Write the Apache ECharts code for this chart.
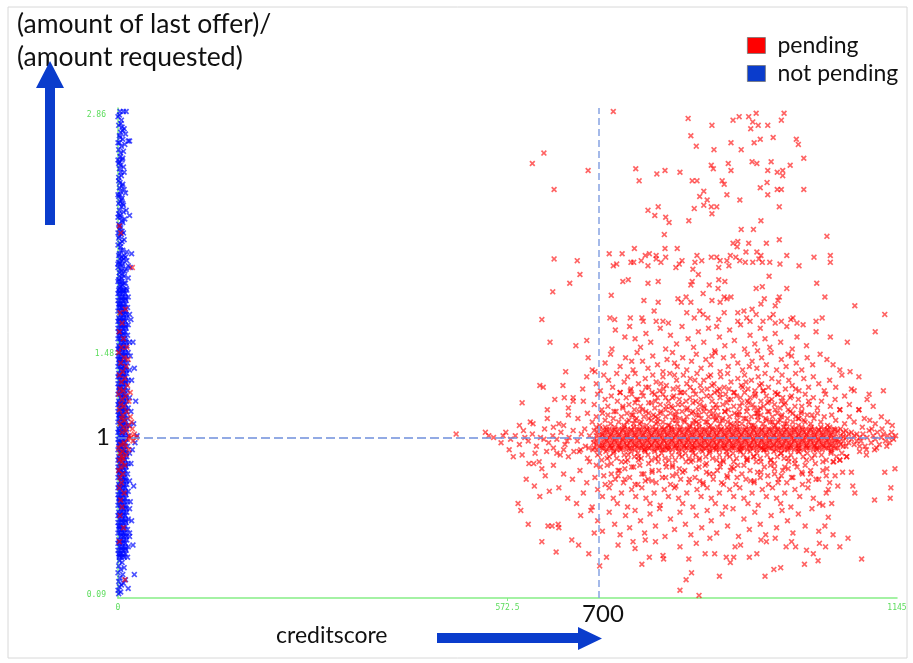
<!DOCTYPE html>
<html><head><meta charset="utf-8">
<script src="https://cdn.jsdelivr.net/npm/echarts@6/dist/echarts.min.js"></script>
<style>html,body{margin:0;padding:0;background:#fff}#c{width:913px;height:663px}</style>
</head><body><div id="c"></div><script>
// creditscore, (amount of last offer)/(amount requested) — flat x,y pairs
const xTicks = [0, 572.5, 1145];
const yTicks = [0.09, 1.48, 2.86];
const splitScore = 707;   // vertical reference line (labelled 700)
const splitRatio = 1;     // horizontal reference line

const pendingHigh = [728,2.88,838,2.84,873,2.80,904,2.83,913,2.85,927,2.85,938,2.87,933,2.82,941,2.80,930,2.78,955,2.80,979,2.87,975,2.83,842,2.74,963,2.73,944,2.72,935,2.70,997,2.72,1000,2.69,901,2.70,850,2.68,876,2.66,916,2.66,1008,2.61,932,2.59,939,2.58,960,2.59,872,2.57,897,2.58,875,2.55,901,2.54,955,2.54,969,2.53,977,2.54,977,2.51,988,2.57,761,2.55,792,2.52,804,2.54,826,2.53,766,2.48,844,2.48,851,2.48,888,2.48,891,2.46,954,2.47,944,2.44,969,2.43,975,2.43,1008,2.43,861,2.42,855,2.39,895,2.40,955,2.40,866,2.37,914,2.37,861,2.34,872,2.33,880,2.33,847,2.32,794,2.33,779,2.31,873,2.29,972,2.33,789,2.28,805,2.27,810,2.24,839,2.25,945,2.25,916,2.20,934,2.20,803,2.17,1042,2.16,972,2.14,904,2.12,911,2.13,910,2.10,927,2.12,953,2.12,804,2.09,822,2.09,759,2.09,626,2.64,609,2.58,691,2.54,641,2.43,641,2.03,675,2.02,679,1.94,664,1.89,639,1.84,623,1.68,
722,2.06,741,2.06,728,1.99,733,2.00,754,2.01,758,2.01,769,2.02,775,2.05,781,2.06,779,1.99,791,2.05,791,2.03,798,2.01,805,2.04,820,1.98,825,2.00,829,2.02,845,1.97,848,2.01,851,2.05,858,2.02,872,2.04,880,2.04,885,2.02,883,1.98,895,2.02,900,2.05,898,1.99,908,2.04,914,2.02,923,2.07,922,2.01,933,2.01,939,2.07,945,2.05,942,2.03,947,2.01,958,2.01,973,2.00,983,2.05,1001,1.99,1023,2.04,1047,2.05,1047,2.01,
853,1.94,844,1.90,842,1.88,869,1.88,883,1.91,892,1.90,882,1.86,742,1.90,750,1.91,779,1.89,794,1.90,957,1.93,947,1.87,938,1.86,983,1.86,1027,1.89,725,1.82,773,1.79,794,1.78,823,1.80,828,1.78,835,1.81,842,1.78,860,1.83,873,1.79,885,1.78,891,1.81,895,1.80,901,1.81,950,1.80,972,1.81,970,1.79,945,1.77,966,1.76,1039,1.81,1083,1.76,1127,1.71,788,1.73,836,1.72,847,1.69,855,1.73,860,1.71,891,1.72,911,1.72,920,1.73,932,1.74,924,1.69,938,1.71,963,1.71,958,1.69,992,1.69,989,1.68,1035,1.69,1026,1.67,723,1.69,730,1.68,753,1.69,770,1.69,772,1.67,791,1.67,801,1.67,809,1.66,867,1.69,883,1.68,911,1.67,929,1.67,948,1.67,966,1.66,975,1.67,998,1.66,1007,1.65];

const pendingMid = [635,1.55,673,1.53,689,1.56,731,1.62,745,1.58,752,1.64,768,1.52,776,1.60,783,1.55,797,1.63,805,1.51,812,1.59,821,1.54,829,1.64,838,1.57,846,1.52,853,1.61,861,1.55,868,1.63,877,1.50,884,1.58,892,1.53,899,1.62,906,1.56,915,1.65,921,1.51,929,1.59,936,1.54,944,1.63,951,1.57,958,1.52,966,1.60,974,1.55,983,1.64,991,1.51,998,1.58,1012,1.53,1026,1.61,1047,1.58,1072,1.55,1113,1.61,726,1.51,760,1.57,880,1.64,940,1.50,
691,1.46,701,1.38,697,1.39,716,1.43,724,1.48,738,1.41,746,1.46,757,1.39,763,1.49,771,1.44,779,1.40,786,1.47,793,1.42,801,1.38,807,1.45,815,1.49,822,1.41,830,1.46,836,1.39,843,1.44,850,1.48,857,1.40,864,1.45,871,1.42,878,1.49,885,1.38,890,1.46,897,1.41,904,1.47,911,1.43,918,1.39,925,1.48,932,1.44,939,1.40,946,1.46,953,1.42,960,1.49,968,1.39,975,1.45,982,1.41,990,1.47,997,1.43,1005,1.39,1013,1.46,1021,1.42,1032,1.48,1042,1.45,1051,1.42,1061,1.39,1076,1.38,658,1.38,755,1.44,818,1.43,873,1.47,928,1.41,985,1.48,
620,1.30,625,1.29,654,1.30,683,1.28,689,1.35,703,1.31,709,1.27,714,1.36,721,1.33,727,1.29,733,1.37,738,1.26,744,1.32,749,1.35,754,1.28,760,1.37,765,1.31,770,1.26,775,1.34,780,1.29,786,1.36,791,1.32,796,1.27,801,1.35,806,1.30,811,1.37,816,1.28,821,1.33,826,1.26,831,1.36,836,1.31,841,1.34,846,1.27,851,1.37,856,1.30,861,1.33,866,1.28,871,1.36,876,1.31,881,1.27,886,1.35,891,1.29,896,1.37,901,1.32,906,1.26,911,1.34,916,1.30,921,1.36,926,1.28,931,1.33,936,1.27,941,1.35,946,1.31,951,1.37,956,1.29,961,1.34,966,1.26,971,1.32,976,1.36,981,1.28,986,1.33,991,1.30,996,1.37,1001,1.27,1008,1.34,1015,1.29,1022,1.35,1030,1.31,1038,1.27,1046,1.33,1055,1.29,1064,1.36,1078,1.28,1082,1.27,1089,1.35,1125,1.27,1104,1.25,798,1.31,823,1.29,848,1.33,873,1.30,898,1.28,923,1.32,948,1.27,868,1.35,818,1.36,943,1.30,
594,1.20,642,1.22,656,1.23,669,1.23,669,1.21,684,1.21,662,1.17,631,1.16,700,1.19,705,1.25,711,1.16,716,1.22,720,1.18,725,1.24,729,1.15,734,1.21,738,1.26,742,1.17,747,1.23,751,1.19,755,1.25,759,1.16,764,1.22,768,1.18,772,1.24,776,1.15,780,1.20,785,1.26,789,1.17,793,1.23,797,1.19,801,1.25,805,1.16,809,1.21,813,1.18,817,1.24,821,1.15,825,1.22,829,1.19,833,1.26,837,1.17,841,1.23,845,1.20,849,1.25,853,1.16,857,1.22,861,1.18,865,1.24,869,1.15,873,1.21,877,1.26,881,1.17,885,1.23,889,1.19,893,1.25,897,1.16,901,1.22,905,1.18,909,1.24,913,1.15,917,1.20,921,1.26,925,1.17,929,1.23,933,1.19,937,1.25,941,1.16,945,1.21,949,1.18,953,1.24,957,1.15,961,1.22,965,1.19,969,1.25,973,1.17,977,1.23,981,1.20,985,1.16,990,1.24,995,1.18,1000,1.22,1005,1.15,1010,1.25,1016,1.19,1022,1.23,1028,1.17,1034,1.21,1040,1.25,1047,1.18,1054,1.22,1061,1.16,1068,1.24,1075,1.19,1089,1.16,1101,1.22,1110,1.18,760,1.20,790,1.21,815,1.17,835,1.21,855,1.19,875,1.17,895,1.20,915,1.23,935,1.17,955,1.20,975,1.21,845,1.15,885,1.25,925,1.21,805,1.23,
606,1.09,631,1.11,662,1.13,676,1.11,648,1.08,690,1.14,697,1.09,703,1.12,708,1.07,712,1.14,716,1.10,720,1.13,724,1.08,728,1.11,732,1.15,736,1.09,740,1.12,744,1.07,748,1.14,751,1.10,755,1.13,758,1.08,762,1.11,766,1.15,769,1.09,773,1.12,777,1.07,780,1.14,784,1.10,787,1.13,791,1.08,794,1.11,798,1.15,801,1.09,805,1.12,808,1.07,812,1.14,815,1.10,819,1.13,822,1.08,826,1.11,829,1.15,833,1.09,836,1.12,840,1.07,843,1.14,847,1.10,850,1.13,854,1.08,857,1.11,861,1.15,864,1.09,868,1.12,871,1.07,875,1.14,878,1.10,882,1.13,885,1.08,889,1.11,892,1.15,896,1.09,899,1.12,903,1.07,906,1.14,910,1.10,913,1.13,917,1.08,920,1.11,924,1.15,927,1.09,931,1.12,934,1.07,938,1.14,941,1.10,945,1.13,948,1.08,952,1.11,955,1.15,959,1.09,962,1.12,966,1.07,969,1.14,973,1.10,976,1.13,980,1.08,984,1.11,988,1.15,992,1.09,996,1.12,1000,1.07,1004,1.14,1008,1.10,1013,1.13,1018,1.08,1023,1.11,1028,1.14,1033,1.09,1038,1.12,1043,1.07,1049,1.13,1055,1.10,1061,1.16,1068,1.08,1075,1.12,1082,1.09,1089,1.16,1097,1.11,1105,1.10,1113,1.08,1122,1.12,1131,1.09,1138,1.07,760,1.10,790,1.12,820,1.10,850,1.09,880,1.11,910,1.08,940,1.12,970,1.09,1000,1.11];

const pendingDense = [742,1.18,748,1.09,753,1.27,757,1.13,762,1.22,767,1.08,771,1.16,776,1.29,780,1.11,784,1.20,789,1.25,793,1.09,797,1.14,802,1.28,806,1.18,810,1.07,815,1.23,819,1.12,823,1.19,828,1.26,832,1.10,836,1.16,841,1.29,845,1.08,849,1.21,854,1.13,858,1.27,862,1.17,866,1.09,871,1.24,875,1.12,879,1.19,884,1.28,888,1.10,892,1.15,897,1.22,901,1.08,905,1.26,910,1.13,914,1.18,918,1.29,923,1.11,927,1.20,931,1.07,936,1.24,940,1.14,944,1.17,949,1.27,953,1.10,957,1.21,962,1.09,966,1.16,970,1.25,975,1.12,979,1.19,983,1.08,988,1.23,992,1.14,996,1.28,1001,1.11,1005,1.18,1010,1.09,1015,1.21,1020,1.13,
703,0.84,708,0.91,714,0.78,719,0.88,724,0.74,729,0.92,735,0.81,740,0.86,745,0.76,750,0.90,755,0.83,760,0.73,765,0.89,770,0.79,775,0.92,780,0.85,785,0.75,790,0.88,795,0.81,800,0.93,805,0.77,810,0.87,815,0.83,820,0.72,825,0.90,830,0.80,835,0.86,840,0.76,845,0.91,850,0.82,855,0.88,860,0.74,865,0.85,870,0.92,875,0.79,880,0.87,885,0.83,890,0.73,895,0.90,900,0.81,905,0.86,910,0.77,915,0.92,920,0.84,925,0.88,930,0.75,935,0.89,940,0.80,945,0.86,950,0.93,955,0.78,960,0.87,965,0.82,970,0.74,975,0.91,980,0.83,985,0.88,990,0.77,995,0.85,1000,0.92,1006,0.79,1012,0.87,1018,0.81,1024,0.90,1030,0.76,1036,0.86,1042,0.82,1048,0.91,1054,0.78];

const pendingBand = [
700,0.94,700,0.99,700,1.04,703,0.96,703,1.01,703,1.06,705,0.93,705,0.98,705,1.03,708,0.95,708,1.00,708,1.05,711,0.97,711,1.02,711,0.94,
714,0.94,714,0.99,714,1.04,716,0.96,716,1.01,716,1.06,719,0.93,719,0.98,719,1.03,722,0.95,722,1.00,722,1.05,725,0.97,725,1.02,725,0.94,
727,0.94,727,0.99,727,1.04,730,0.96,730,1.01,730,1.06,733,0.93,733,0.98,733,1.03,736,0.95,736,1.00,736,1.05,738,0.97,738,1.02,738,0.94,
741,0.94,741,0.99,741,1.04,744,0.96,744,1.01,744,1.06,747,0.93,747,0.98,747,1.03,749,0.95,749,1.00,749,1.05,752,0.97,752,1.02,752,0.94,
755,0.94,755,0.99,755,1.04,758,0.96,758,1.01,758,1.06,760,0.93,760,0.98,760,1.03,763,0.95,763,1.00,763,1.05,766,0.97,766,1.02,766,0.94,
769,0.94,769,0.99,769,1.04,771,0.96,771,1.01,771,1.06,774,0.93,774,0.98,774,1.03,777,0.95,777,1.00,777,1.05,780,0.97,780,1.02,780,0.94,
782,0.94,782,0.99,782,1.04,785,0.96,785,1.01,785,1.06,788,0.93,788,0.98,788,1.03,791,0.95,791,1.00,791,1.05,793,0.97,793,1.02,793,0.94,
796,0.94,796,0.99,796,1.04,799,0.96,799,1.01,799,1.06,802,0.93,802,0.98,802,1.03,804,0.95,804,1.00,804,1.05,807,0.97,807,1.02,807,0.94,
810,0.94,810,0.99,810,1.04,813,0.96,813,1.01,813,1.06,815,0.93,815,0.98,815,1.03,818,0.95,818,1.00,818,1.05,821,0.97,821,1.02,821,0.94,
824,0.94,824,0.99,824,1.04,826,0.96,826,1.01,826,1.06,829,0.93,829,0.98,829,1.03,832,0.95,832,1.00,832,1.05,835,0.97,835,1.02,835,0.94,
837,0.94,837,0.99,837,1.04,840,0.96,840,1.01,840,1.06,843,0.93,843,0.98,843,1.03,846,0.95,846,1.00,846,1.05,848,0.97,848,1.02,848,0.94,
851,0.94,851,0.99,851,1.04,854,0.96,854,1.01,854,1.06,857,0.93,857,0.98,857,1.03,859,0.95,859,1.00,859,1.05,862,0.97,862,1.02,862,0.94,
865,0.94,865,0.99,865,1.04,868,0.96,868,1.01,868,1.06,870,0.93,870,0.98,870,1.03,873,0.95,873,1.00,873,1.05,876,0.97,876,1.02,876,0.94,
879,0.94,879,0.99,879,1.04,881,0.96,881,1.01,881,1.06,884,0.93,884,0.98,884,1.03,887,0.95,887,1.00,887,1.05,890,0.97,890,1.02,890,0.94,
892,0.94,892,0.99,892,1.04,895,0.96,895,1.01,895,1.06,898,0.93,898,0.98,898,1.03,901,0.95,901,1.00,901,1.05,903,0.97,903,1.02,903,0.94,
906,0.94,906,0.99,906,1.04,909,0.96,909,1.01,909,1.06,912,0.93,912,0.98,912,1.03,914,0.95,914,1.00,914,1.05,917,0.97,917,1.02,917,0.94,
920,0.94,920,0.99,920,1.04,923,0.96,923,1.01,923,1.06,925,0.93,925,0.98,925,1.03,928,0.95,928,1.00,928,1.05,931,0.97,931,1.02,931,0.94,
934,0.94,934,0.99,934,1.04,936,0.96,936,1.01,936,1.06,939,0.93,939,0.98,939,1.03,942,0.95,942,1.00,942,1.05,945,0.97,945,1.02,945,0.94,
947,0.94,947,0.99,947,1.04,950,0.96,950,1.01,950,1.06,953,0.93,953,0.98,953,1.03,956,0.95,956,1.00,956,1.05,958,0.97,958,1.02,958,0.94,
961,0.94,961,0.99,961,1.04,964,0.96,964,1.01,964,1.06,967,0.93,967,0.98,967,1.03,969,0.95,969,1.00,969,1.05,972,0.97,972,1.02,972,0.94,
975,0.94,975,0.99,975,1.04,978,0.96,978,1.01,978,1.06,980,0.93,980,0.98,980,1.03,983,0.95,983,1.00,983,1.05,986,0.97,986,1.02,986,0.94,
989,0.94,989,0.99,989,1.04,991,0.96,991,1.01,991,1.06,994,0.93,994,0.98,994,1.03,997,0.95,997,1.00,997,1.05,1000,0.97,1000,1.02,1000,0.94,
1002,0.94,1002,0.99,1002,1.04,1005,0.96,1005,1.01,1005,1.06,1008,0.93,1008,0.98,1008,1.03,1011,0.95,1011,1.00,1011,1.05,1013,0.97,1013,1.02,1013,0.94,
1016,0.94,1016,0.99,1016,1.04,1019,0.96,1019,1.01,1019,1.06,1022,0.93,1022,0.98,1022,1.03,1024,0.95,1024,1.00,1024,1.05,1027,0.97,1027,1.02,1027,0.94,
1030,0.94,1030,0.99,1030,1.04,1033,0.96,1033,1.01,1033,1.06,1035,0.93,1035,0.98,1035,1.03,1038,0.95,1038,1.00,1038,1.05,1041,0.97,1041,1.02,1041,0.94,
1044,0.94,1044,0.99,1044,1.04,1046,0.96,1046,1.01,1046,1.06,1049,0.93,1049,0.98,1049,1.03,1052,0.95,1052,1.00,1052,1.05,1055,0.97,1055,1.02,1055,0.94,
1058,0.94,1058,0.99,1058,1.04,1062,0.96,1062,1.01,1062,1.05,1066,0.95,1066,0.98,1066,1.03,1070,0.95,1070,1.00,1070,1.04,1074,0.97,1074,1.02,1078,0.99,1078,1.03,1082,0.96,1082,1.01,1086,0.98,1086,1.02,1090,0.95,1090,1.00,
1092,0.98,1095,1.02,1098,0.95,1101,1.00,1104,1.04,1107,0.97,1110,1.01,1113,0.99,1116,1.03,1119,0.96,1122,1.00,1125,1.02,1128,0.98,1131,1.01,1134,0.97,1137,1.03,1140,0.99,1143,1.01,1094,1.06,1100,0.93,1108,1.05,1115,0.94,1123,1.05,1130,0.95,1138,1.00,
552,1.00,563,0.97,570,1.03,577,0.99,584,1.01,590,0.96,596,1.04,603,0.98,609,1.02,615,0.95,621,1.00,627,1.05,633,0.97,639,1.01,645,0.99,651,1.03,657,0.96,663,1.00,669,1.04,675,0.98,681,1.02,687,0.95,693,1.01,699,0.97,575,0.93,590,1.07,610,1.08,630,0.92,655,1.07,680,0.93,566,1.01,598,1.00,626,0.99,660,0.98,686,1.05,640,1.06,613,0.91,650,0.90,670,0.92,692,0.94,545,1.01,497,1.02,540,1.03];

const pendingBandCore = [712,0.955,712,1.015,718,0.985,718,1.045,724,0.955,724,1.015,730,0.985,730,1.045,736,0.955,736,1.015,742,0.985,742,1.045,748,0.955,748,1.015,754,0.985,754,1.045,760,0.955,760,1.015,766,0.985,766,1.045,772,0.955,772,1.015,778,0.985,778,1.045,784,0.955,784,1.015,790,0.985,790,1.045,796,0.955,796,1.015,802,0.985,802,1.045,808,0.955,808,1.015,814,0.985,814,1.045,820,0.955,820,1.015,826,0.985,826,1.045,832,0.955,832,1.015,838,0.985,838,1.045,844,0.955,844,1.015,850,0.985,850,1.045,856,0.955,856,1.015,862,0.985,862,1.045,868,0.955,868,1.015,874,0.985,874,1.045,880,0.955,880,1.015,886,0.985,886,1.045,892,0.955,892,1.015,898,0.985,898,1.045,904,0.955,904,1.015,910,0.985,910,1.045,916,0.955,916,1.015,922,0.985,922,1.045,928,0.955,928,1.015,934,0.985,934,1.045,940,0.955,940,1.015,946,0.985,946,1.045,952,0.955,952,1.015,958,0.985,958,1.045,964,0.955,964,1.015,970,0.985,970,1.045,976,0.955,976,1.015,982,0.985,982,1.045,988,0.955,988,1.015,994,0.985,994,1.045,1000,0.955,1000,1.015,1006,0.985,1006,1.045,1012,0.955,1012,1.015,1018,0.985,1018,1.045,1024,0.955,1024,1.015,1030,0.985,1030,1.045,1036,0.955,1036,1.015,1042,0.985,1042,1.045,1048,0.955,1048,1.015,1054,0.985,1054,1.045,1060,0.975,1066,1.005];

const pendingLow = [645,0.91,662,0.89,678,0.92,690,0.88,698,0.93,705,0.90,711,0.87,717,0.92,722,0.89,728,0.91,733,0.88,739,0.93,744,0.90,749,0.87,754,0.92,759,0.89,764,0.91,769,0.88,774,0.93,779,0.90,784,0.87,789,0.92,794,0.89,799,0.91,804,0.88,809,0.93,814,0.90,819,0.87,824,0.92,829,0.89,834,0.91,839,0.88,844,0.93,849,0.90,854,0.87,859,0.92,864,0.89,869,0.91,874,0.88,879,0.93,884,0.90,889,0.87,894,0.92,899,0.89,904,0.91,909,0.88,914,0.93,919,0.90,924,0.87,929,0.92,934,0.89,939,0.91,944,0.88,949,0.93,954,0.90,959,0.87,964,0.92,969,0.89,974,0.91,979,0.88,984,0.93,989,0.90,995,0.87,1001,0.92,1007,0.89,1013,0.91,1020,0.88,1027,0.93,1034,0.90,1041,0.87,1048,0.92,1056,0.89,1064,0.91,1071,0.89,1061,0.87,1078,0.80,1112,0.93,1090,0.92,1100,0.90,581,0.89,594,0.90,604,0.85,611,0.85,619,0.86,623,0.82,640,0.94,655,0.93,
640,0.84,648,0.71,655,0.79,661,0.65,668,0.76,674,0.62,679,0.81,684,0.68,689,0.74,693,0.86,697,0.60,701,0.77,705,0.70,709,0.83,712,0.66,716,0.73,719,0.84,722,0.71,725,0.79,728,0.65,731,0.76,734,0.62,737,0.81,740,0.68,743,0.74,746,0.86,749,0.60,752,0.77,755,0.70,758,0.83,761,0.66,764,0.73,767,0.84,770,0.71,773,0.79,776,0.65,779,0.76,782,0.62,785,0.81,788,0.68,791,0.74,794,0.86,797,0.61,800,0.77,803,0.70,806,0.83,809,0.66,812,0.73,815,0.84,818,0.71,821,0.79,824,0.65,827,0.76,830,0.62,833,0.81,836,0.68,839,0.74,842,0.86,845,0.60,848,0.77,851,0.70,854,0.83,857,0.66,860,0.73,863,0.84,866,0.71,869,0.79,872,0.65,875,0.76,878,0.62,881,0.81,884,0.68,887,0.74,890,0.86,893,0.60,896,0.77,899,0.70,902,0.83,905,0.66,908,0.73,911,0.84,914,0.71,917,0.79,920,0.65,923,0.76,926,0.62,929,0.81,932,0.68,935,0.74,938,0.86,941,0.61,944,0.77,947,0.70,950,0.83,953,0.66,956,0.73,959,0.84,962,0.71,965,0.79,968,0.65,971,0.76,974,0.62,977,0.81,980,0.68,983,0.74,986,0.86,989,0.60,992,0.77,995,0.70,998,0.83,1002,0.66,1006,0.73,1010,0.84,1014,0.71,1018,0.79,1022,0.65,1026,0.76,1031,0.62,1036,0.81,1041,0.68,1046,0.74,1052,0.86,1058,0.72,1065,0.80,1080,0.72,1083,0.68,1049,0.62,1044,0.70,1041,0.78,1112,0.64,1127,0.80,1136,0.71,1135,0.65,1142,0.82,1051,0.86,1061,0.87,1071,0.89,588,0.62,592,0.58,612,0.72,620,0.66,628,0.78,634,0.69,600,0.76,
725,0.85,745,0.82,765,0.87,785,0.80,805,0.85,825,0.82,845,0.87,865,0.80,885,0.85,905,0.82,925,0.87,945,0.80,965,0.85,985,0.82,1005,0.80,1025,0.85,735,0.78,775,0.75,815,0.78,855,0.75,895,0.78,935,0.75,975,0.78,1015,0.75,
603,0.50,632,0.49,638,0.49,648,0.48,647,0.50,667,0.41,677,0.38,644,0.34,623,0.40,692,0.33,718,0.31,757,0.40,775,0.41,781,0.31,801,0.32,802,0.30,826,0.37,839,0.30,863,0.33,877,0.33,894,0.31,905,0.31,907,0.37,928,0.31,939,0.33,953,0.40,966,0.42,982,0.37,996,0.37,1022,0.33,1031,0.39,1040,0.37,1051,0.44,1061,0.37,1073,0.42,1093,0.30,1044,0.54,1039,0.49,1036,0.61,
680,0.55,695,0.58,705,0.52,712,0.46,722,0.57,730,0.50,738,0.44,746,0.55,752,0.48,760,0.58,768,0.52,774,0.45,782,0.56,790,0.49,796,0.59,804,0.43,812,0.53,818,0.47,826,0.57,834,0.50,842,0.44,850,0.55,858,0.48,866,0.58,872,0.52,880,0.45,888,0.56,896,0.49,904,0.59,912,0.43,920,0.53,928,0.47,936,0.57,944,0.50,952,0.44,960,0.55,968,0.48,976,0.58,984,0.52,992,0.45,1000,0.56,1010,0.49,1020,0.59,1030,0.46,700,0.45,735,0.38,760,0.36,790,0.40,850,0.39,870,0.42,915,0.38,945,0.41,990,0.40,1012,0.35,
708,0.26,843,0.22,835,0.18,826,0.12,854,0.09,884,0.20,951,0.20,964,0.24,974,0.25,1009,0.27,1029,0.29,770,0.27,900,0.28];

const pendingLeft = [2,2.22,4,2.18,21,1.98,3,1.72,6,1.66,2,1.61,8,1.57,5,1.52,1,1.49,9,1.46,4,1.43,12,1.41,7,1.38,2,1.36,10,1.34,5,1.32,14,1.30,3,1.28,8,1.27,1,1.25,11,1.24,6,1.22,16,1.21,4,1.19,9,1.18,2,1.16,13,1.15,7,1.13,18,1.12,5,1.11,10,1.10,3,1.08,15,1.07,8,1.06,21,1.05,12,1.04,6,1.03,24,1.02,17,1.01,19,1.00,27,1.00,14,0.99,22,0.98,9,0.97,4,0.96,11,0.95,1,0.94,16,0.93,7,0.92,3,0.91,12,0.90,5,0.89,8,0.88,2,0.87,6,0.86,10,0.84,4,0.83,1,0.81,7,0.79,3,0.77,5,0.74,2,0.71,9,0.68,4,0.64,6,0.60,3,0.55,8,0.48,2,0.40,10,0.18,13,1.52,11,1.74,15,1.45,18,1.26,20,1.09];

const notPending = [3,2.88,8,2.88,12,2.88,2,2.86,5,2.83,1,2.80,6,2.79,9,2.78,4,2.76,11,2.75,3,2.73,7,2.72,15,2.71,17,2.71,2,2.70,5,2.68,1,2.66,8,2.65,3,2.62,0,2.60,6,2.60,1,2.58,4,2.57,2,2.55,9,2.53,5,2.51,1,2.50,3,2.47,7,2.46,2,2.44,4,2.42,11,2.41,1,2.39,6,2.38,3,2.36,7,2.35,8,2.34,5,2.33,12,2.31,2,2.31,1,2.29,17,2.28,4,2.27,10,2.26,7,2.24,3,2.22,2,2.20,6,2.19,5,2.17,1,2.15,9,2.14,3,2.12,4,2.10,7,2.08,13,2.07,20,2.06,2,2.06,9,2.05,5,2.04,8,2.03,13,2.02,6,2.02,1,2.01,3,2.00,6,1.99,15,1.99,18,1.98,4,1.97,10,1.96,2,1.95,7,1.94,5,1.92,15,1.92,1,1.91,3,1.90,9,1.89,6,1.88,4,1.87,12,1.86,2,1.86,8,1.85,
0,2.85,4,2.81,7,2.77,2,2.74,10,2.69,4,2.64,7,2.61,2,2.59,8,2.56,4,2.53,1,2.48,6,2.45,9,2.43,3,2.40,5,2.37,1,2.35,8,2.30,3,2.28,6,2.25,1,2.23,4,2.21,8,2.18,2,2.16,6,2.13,0,2.11,4,2.08,1,2.05,11,2.04,3,2.03,7,2.00,0,1.98,12,1.97,5,1.96,2,1.93,9,1.93,0,1.90,6,1.90,11,1.89,3,1.88,0,2.40,0,2.27,0,2.18,0,2.00,0,2.70,
1,1.85,5,1.85,9,1.85,13,1.85,3,1.83,7,1.83,11,1.83,0,1.83,2,1.81,6,1.81,10,1.81,15,1.81,0,1.79,4,1.79,8,1.79,12,1.79,1,1.77,6,1.77,11,1.77,3,1.77,2,1.75,5,1.75,9,1.75,14,1.75,0,1.73,3,1.73,7,1.73,10,1.73,4,1.71,8,1.71,12,1.71,17,1.71,
1,1.69,5,1.69,9,1.69,13,1.69,3,1.67,7,1.67,11,1.67,0,1.67,2,1.65,6,1.65,10,1.65,15,1.65,0,1.63,4,1.63,8,1.63,12,1.63,1,1.61,6,1.61,11,1.61,3,1.61,2,1.59,5,1.59,9,1.59,14,1.59,0,1.57,3,1.57,7,1.57,10,1.57,4,1.55,8,1.55,12,1.55,17,1.55,
1,1.53,5,1.53,9,1.53,13,1.53,3,1.51,7,1.51,11,1.51,0,1.51,2,1.49,6,1.49,10,1.49,15,1.49,0,1.47,4,1.47,8,1.47,12,1.47,1,1.45,6,1.45,11,1.45,3,1.45,2,1.43,5,1.43,9,1.43,14,1.43,0,1.41,3,1.41,7,1.41,10,1.41,4,1.39,8,1.39,12,1.39,17,1.39,
1,1.37,5,1.37,9,1.37,13,1.37,3,1.35,7,1.35,11,1.35,0,1.35,2,1.33,6,1.33,10,1.33,15,1.33,0,1.31,4,1.31,8,1.31,12,1.31,1,1.29,6,1.29,11,1.29,3,1.29,2,1.27,5,1.27,9,1.27,14,1.27,0,1.25,3,1.25,7,1.25,10,1.25,4,1.23,8,1.23,12,1.23,17,1.23,
1,1.21,5,1.21,9,1.21,13,1.21,3,1.19,7,1.19,11,1.19,0,1.19,2,1.17,6,1.17,10,1.17,15,1.17,0,1.15,4,1.15,8,1.15,12,1.15,1,1.13,6,1.13,11,1.13,3,1.13,2,1.11,5,1.11,9,1.11,14,1.11,0,1.09,3,1.09,7,1.09,10,1.09,4,1.07,8,1.07,12,1.07,17,1.07,
1,1.05,5,1.05,9,1.05,13,1.05,3,1.03,7,1.03,11,1.03,0,1.03,2,1.01,6,1.01,10,1.01,15,1.01,0,0.99,4,0.99,8,0.99,12,0.99,1,0.97,6,0.97,11,0.97,3,0.97,2,0.95,5,0.95,9,0.95,14,0.95,0,0.93,3,0.93,7,0.93,10,0.93,4,0.91,8,0.91,12,0.91,17,0.91,
1,0.89,5,0.89,9,0.89,13,0.89,3,0.87,7,0.87,11,0.87,0,0.87,2,0.85,6,0.85,10,0.85,15,0.85,0,0.83,4,0.83,8,0.83,12,0.83,1,0.81,6,0.81,11,0.81,3,0.81,2,0.79,5,0.79,9,0.79,14,0.79,0,0.77,3,0.77,7,0.77,10,0.77,4,0.75,8,0.75,12,0.75,17,0.75,
1,0.73,5,0.73,9,0.73,13,0.73,3,0.71,7,0.71,11,0.71,0,0.71,2,0.69,6,0.69,10,0.69,15,0.69,0,0.67,4,0.67,8,0.67,12,0.67,1,0.65,6,0.65,11,0.65,3,0.65,2,0.63,5,0.63,9,0.63,14,0.63,0,0.61,3,0.61,7,0.61,10,0.61,4,0.59,8,0.59,12,0.59,17,0.59,
1,0.57,5,0.57,9,0.57,13,0.57,3,0.55,7,0.55,11,0.55,0,0.55,2,0.53,6,0.53,10,0.53,15,0.53,0,0.51,4,0.51,8,0.51,12,0.51,1,0.49,6,0.49,11,0.49,3,0.49,2,0.47,5,0.47,9,0.47,14,0.47,0,0.45,3,0.45,7,0.45,10,0.45,4,0.43,8,0.43,12,0.43,17,0.43,
1,0.41,5,0.41,9,0.41,13,0.41,3,0.39,7,0.39,11,0.39,0,0.39,2,0.37,6,0.37,10,0.37,15,0.37,0,0.35,4,0.35,8,0.35,12,0.35,1,0.33,6,0.33,11,0.33,3,0.33,2,0.31,5,0.31,9,0.31,14,0.31,
19,1.68,22,1.55,18,1.47,24,1.40,20,1.33,26,1.21,19,1.15,23,1.08,28,1.01,25,0.97,21,0.93,19,0.85,23,0.72,18,0.63,20,0.52,17,0.45,22,0.38,
2,0.29,6,0.28,1,0.26,9,0.25,4,0.24,0,0.22,7,0.21,3,0.19,11,0.18,1,0.17,5,0.15,2,0.14,15,0.13,0,0.12,4,0.11,1,0.10,24,0.21,8,0.16,
2,1.84,8,1.84,5,1.80,11,1.80,2,1.76,8,1.76,5,1.72,11,1.72,2,1.68,8,1.68,5,1.64,11,1.64,2,1.60,8,1.60,5,1.56,11,1.56,2,1.52,8,1.52,5,1.48,11,1.48,2,1.44,8,1.44,5,1.40,11,1.40,2,1.36,8,1.36,5,1.32,11,1.32,2,1.28,8,1.28,5,1.24,11,1.24,2,1.20,8,1.20,5,1.16,11,1.16,2,1.12,8,1.12,5,1.08,11,1.08,2,1.04,8,1.04,5,1.00,11,1.00,2,0.96,8,0.96,5,0.92,11,0.92,2,0.88,8,0.88,5,0.84,11,0.84,2,0.80,8,0.80,5,0.76,11,0.76,2,0.72,8,0.72,5,0.68,11,0.68,2,0.64,8,0.64,5,0.60,11,0.60,2,0.56,8,0.56,5,0.52,11,0.52,2,0.48,8,0.48,5,0.44,11,0.44,2,0.40,8,0.40,5,0.36,11,0.36,2,0.32,8,0.32];

const toPairs = a => { const r = []; for (let i = 0; i + 1 < a.length; i += 2) r.push([a[i], a[i + 1]]); return r; };
const crossSymbol = 'path://M0,2L2,0L5,3L8,0L10,2L7,5L10,8L8,10L5,7L2,10L0,8L3,5Z';
const GREEN = '#86ee86', GREEN_TXT = '#5bdc5b', BLUE = '#0a3ccc', TXT = '#111111';
const FONT = 'Lato, "Open Sans", sans-serif';

const chart = echarts.init(document.getElementById('c'), null, {renderer: 'canvas'});
chart.setOption({
  animation: false,
  backgroundColor: '#ffffff',
  grid: {left: 118, right: 16, top: 108, bottom: 65},
  legend: {
    orient: 'vertical', left: 747, top: 34, padding: 0, itemWidth: 18, itemHeight: 16, itemGap: 5, icon: 'rect',
    selectedMode: false,
    data: [
      {name: 'pending', itemStyle: {color: '#ff0000', opacity: 1, borderColor: '#777', borderWidth: 0.8}},
      {name: 'not pending', itemStyle: {color: '#0a3ccc', opacity: 1, borderColor: '#777', borderWidth: 0.8}}
    ],
    textStyle: {fontFamily: FONT, fontSize: 23, color: TXT, lineHeight: 16, padding: [0, 0, 0, 7]}
  },
  xAxis: {
    type: 'value', min: 0, max: 1145,
    axisLine: {show: true, lineStyle: {color: GREEN, width: 1.5}},
    axisTick: {show: true, customValues: [xTicks[1]], length: 3, lineStyle: {color: GREEN}},
    axisLabel: {customValues: xTicks, color: GREEN_TXT, fontFamily: '"DejaVu Sans Mono", monospace', fontSize: 8, margin: 6,
      formatter: v => String(v)},
    splitLine: {show: false}
  },
  yAxis: {
    type: 'value', min: 0.075, max: 2.9,
    axisLine: {show: true, lineStyle: {color: GREEN, width: 1.5}},
    axisTick: {show: true, customValues: [yTicks[1]], length: 3, lineStyle: {color: GREEN}},
    axisLabel: {customValues: yTicks, color: GREEN_TXT, fontFamily: '"DejaVu Sans Mono", monospace', fontSize: 8, margin: 4,
      formatter: v => Math.abs(v - 1.48) < 1e-6 ? v.toFixed(2) : '{e|' + v.toFixed(2) + '}',
      rich: {e: {padding: [0, 8, 0, 0], color: GREEN_TXT, fontFamily: '"DejaVu Sans Mono", monospace', fontSize: 8}}},
    splitLine: {show: false}
  },
  series: [
    {
      name: 'not pending', type: 'scatter', symbol: crossSymbol, symbolSize: 6,
      itemStyle: {color: 'rgba(0,10,255,0.88)'},
      data: toPairs(notPending), silent: true, z: 2
    },
    {
      name: 'pending', type: 'scatter', symbol: crossSymbol, symbolSize: 6,
      itemStyle: {color: 'rgba(255,0,0,0.76)'},
      data: toPairs(pendingHigh).concat(toPairs(pendingMid), toPairs(pendingDense), toPairs(pendingBand), toPairs(pendingBandCore), toPairs(pendingLow), toPairs(pendingLeft)),
      silent: true, z: 3,
      markLine: {
        silent: true, symbol: ['none', 'none'], label: {show: false}, animation: false,
        data: [
          {xAxis: splitScore, lineStyle: {color: '#86a2e2', type: [7, 4], width: 1.5}},
          {yAxis: splitRatio, lineStyle: {color: '#6f8fdc', type: [9, 4], width: 1.5}}
        ]
      }
    }
  ],
  graphic: [
    {type: 'rect', silent: true, shape: {x: 8, y: 7, width: 899, height: 651}, style: {fill: 'none', stroke: '#d8d8d8', lineWidth: 1}},
    {type: 'text', x: 17, y: 24, style: {text: '(amount of last offer)/', font: '26.5px ' + FONT, fill: TXT, textVerticalAlign: 'middle'}},
    {type: 'text', x: 17, y: 57, style: {text: '(amount requested)', font: '26.5px ' + FONT, fill: TXT, textVerticalAlign: 'middle'}},
    {type: 'text', x: 103, y: 437, style: {text: '1', font: '24px ' + FONT, fill: TXT, textAlign: 'center', textVerticalAlign: 'middle'}},
    {type: 'text', x: 603, y: 614, style: {text: '700', font: '24px ' + FONT, fill: TXT, textAlign: 'center', textVerticalAlign: 'middle'}},
    {type: 'text', x: 276, y: 636, style: {text: 'creditscore', font: '23px ' + FONT, fill: TXT, textVerticalAlign: 'middle'}},
    {type: 'polygon', silent: true, shape: {points: [[45, 225], [45, 88], [36, 88], [50, 61], [64, 88], [55, 88], [55, 225]]}, style: {fill: BLUE}},
    {type: 'polygon', silent: true, shape: {points: [[437, 633], [578, 633], [578, 627], [602, 638.5], [578, 650], [578, 643], [437, 643]]}, style: {fill: BLUE}}
  ]
});
</script></body></html>
